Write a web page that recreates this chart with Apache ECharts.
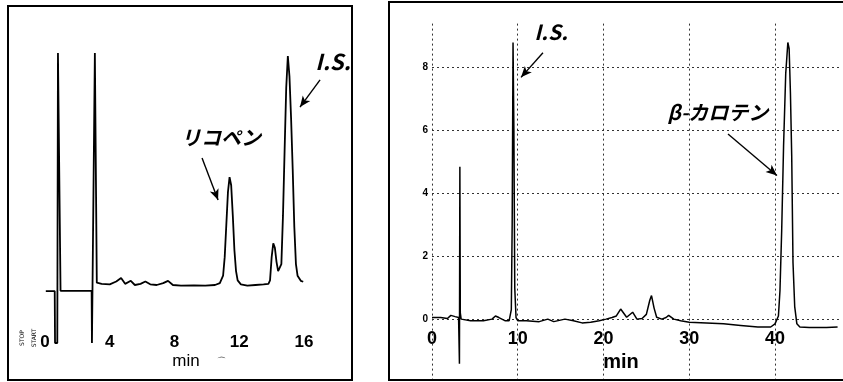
<!DOCTYPE html>
<html>
<head>
<meta charset="utf-8">
<script src="https://cdn.jsdelivr.net/npm/echarts/dist/echarts.min.js"></script>
<style>
  html, body { margin: 0; padding: 0; background: #fff; }
  #main { width: 843px; height: 382px; }
</style>
</head>
<body>
<div id="main"></div>
<script>
// left chromatogram (lycopene) - time in min, signal in arbitrary units
const leftTime = [0.05, 0.6, 0.62, 0.76, 0.8, 0.9, 0.96, 2.88, 2.9, 3.02, 3.08, 3.14, 3.2, 3.5, 4.0, 4.4, 4.7, 4.95, 5.3, 5.55,
  5.9, 6.2, 6.5, 6.9, 7.3, 7.6, 7.9, 8.4, 9.2, 9.9, 10.5, 10.8, 11.0, 11.1, 11.2, 11.3, 11.4, 11.5, 11.6, 11.7,
  11.8, 11.9, 12.1, 12.5, 13.0, 13.5, 13.8, 13.9, 14.0, 14.1, 14.2, 14.3, 14.4, 14.5, 14.6, 14.7, 14.8, 14.9, 15.0, 15.1,
  15.2, 15.3, 15.4, 15.5, 15.6, 15.8, 15.95]
const leftSignal = [-2.6, -2.6, -25, -25, 100, 100, -2.5, -2.5, -25, -25, 100, 100, 1, 0.5, 0.3, 1.5, 3, 0.5, 1.8, 0,
  0.5, 1.5, 0.3, 0, 0.8, 1.8, 0, -0.3, -0.2, -0.3, 0, 0.8, 4, 12, 26, 40, 46.5, 43, 30, 15,
  6, 2, 0.3, -0.3, 0, 0.3, 0.5, 2, 12, 18, 16, 10, 6, 5.6, 9, 30, 58, 85, 98.7, 90,
  72, 50, 25, 9, 4, 1.8, 1.4]
const leftTicks = [0, 4, 8, 12, 16]

// right chromatogram (beta-carotene)
const rightTime = [0, 1.0, 1.8, 2.2, 2.7, 3.1, 3.2, 3.25, 3.3, 3.4, 4.5, 6.0, 7.0, 7.4, 7.8, 8.5, 9.0, 9.25, 9.35, 9.45,
  9.55, 9.65, 9.8, 10.0, 11.0, 12.5, 13.5, 14.2, 15.5, 16.5, 17.5, 18.5, 19.5, 20.3, 21.0, 21.5, 22.0, 22.7, 23.4, 23.9,
  24.5, 25.0, 25.4, 25.6, 25.9, 26.2, 26.8, 27.3, 27.6, 28.2, 29.0, 30.0, 32.0, 34.0, 36.0, 38.0, 39.5, 40.0, 40.4, 40.58,
  40.78, 41.0, 41.25, 41.5, 41.65, 41.8, 41.95, 42.1, 42.3, 42.55, 42.9, 44.0, 46.0, 47.3]
const rightSignal = [0.05, 0.05, 0.02, 0.12, 0.08, 0.05, -1.42, 4.85, 0.2, 0, -0.05, -0.05, 0, 0.1, 0.05, -0.05, -0.05, 0.3, 3, 8.8,
  6, 1, 0.05, -0.05, -0.05, -0.08, 0, -0.08, 0, -0.05, -0.12, -0.1, -0.05, 0, 0.05, 0.1, 0.32, 0.06, 0.22, 0,
  0.02, 0.15, 0.6, 0.75, 0.35, 0.06, 0, 0.05, 0.12, 0, -0.05, -0.1, -0.12, -0.15, -0.2, -0.25, -0.25, -0.15, 0.1, 0.9,
  2.8, 5.5, 7.8, 8.8, 8.6, 7.2, 5.2, 1.8, 0.4, -0.15, -0.25, -0.27, -0.27, -0.25]
const rightYTicks = [0, 2, 4, 6, 8]

// annotations: [time, signal] anchors
const lycopeneLabel = [10.87, 63.8]
const lycopeneArrow = [[9.7, 54.7], [10.69, 36.6]]
const leftISLabel = [17.79, 96.1]
const leftISArrow = [[16.99, 88.4], [15.75, 76.7]]
const rightISLabel = [13.88, 9.13]
const rightISArrow = [[12.94, 8.47], [10.38, 7.69]]
const caroteneLabel = [33.35, 6.58]
const caroteneArrow = [[34.52, 5.89], [40.23, 4.57]]

const zip = (a, b) => a.map((t, i) => [t, b[i]])

const jpFont = '"Noto Sans CJK JP", sans-serif'
const numFont = '"Liberation Sans", Arial, sans-serif'

function textPoint(coord, text, size) {
  return {
    coord: coord,
    symbol: 'circle',
    symbolSize: 0,
    label: {
      show: true,
      position: 'inside',
      formatter: text,
      color: '#000',
      fontFamily: jpFont,
      fontWeight: 'bold',
      fontStyle: 'italic',
      fontSize: size
    }
  }
}

function arrowLine(pts) {
  return [{ coord: pts[0], symbol: 'none' }, { coord: pts[1], symbol: 'arrow', symbolSize: [7, 11] }]
}

const chart = echarts.init(document.getElementById('main'), null, { renderer: 'canvas' })

chart.setOption({
  animation: false,
  backgroundColor: '#fff',
  grid: [
    { left: 45, top: 53, width: 307.6, height: 301.6 },
    { left: 432, top: 23.6, width: 407.3, height: 361.9 }
  ],
  xAxis: [
    {
      gridIndex: 0, type: 'value', min: 0, max: 19, interval: 4,
      offset: -22,
      axisLine: { show: false }, axisTick: { show: false }, splitLine: { show: false },
      axisLabel: {
        margin: 1, showMaxLabel: false, color: '#000',
        fontFamily: numFont, fontWeight: 'bold', fontSize: 17
      }
    },
    {
      gridIndex: 1, type: 'value', min: 0, max: 47.5, interval: 10,
      offset: -52,
      axisLine: { show: false }, axisTick: { show: false },
      splitLine: { show: true, showMaxLine: false, lineStyle: { color: '#333', width: 1, type: [2, 3] } },
      axisLabel: {
        margin: 0, showMaxLabel: false, color: '#000',
        fontFamily: numFont, fontWeight: 'bold', fontSize: 18
      }
    }
  ],
  yAxis: [
    { gridIndex: 0, type: 'value', min: -30, max: 100, show: false },
    {
      gridIndex: 1, type: 'value', min: -2, max: 9.4, interval: 2,
      axisLine: { show: false }, axisTick: { show: false },
      splitLine: { show: true, showMaxLine: false, showMinLine: false, lineStyle: { color: '#333', width: 1, type: [2, 3] } },
      axisLabel: {
        margin: 4, showMaxLabel: false, color: '#000',
        fontFamily: numFont, fontWeight: 'bold', fontSize: 10,
        formatter: v => (rightYTicks.includes(v) ? String(v) : '')
      }
    }
  ],
  series: [
    {
      type: 'line', xAxisIndex: 0, yAxisIndex: 0,
      data: zip(leftTime, leftSignal),
      symbol: 'none', lineStyle: { color: '#000', width: 1.8 },
      markPoint: { data: [textPoint(lycopeneLabel, 'リコペン', 20), textPoint(leftISLabel, 'I.S.', 22)] },
      markLine: {
        silent: true,
        label: { show: false },
        lineStyle: { color: '#000', width: 1.4, type: 'solid' },
        data: [arrowLine(lycopeneArrow), arrowLine(leftISArrow)]
      }
    },
    {
      type: 'line', xAxisIndex: 1, yAxisIndex: 1,
      data: zip(rightTime, rightSignal),
      symbol: 'none', lineStyle: { color: '#000', width: 1.5 },
      markPoint: { data: [textPoint(rightISLabel, 'I.S.', 21), textPoint(caroteneLabel, 'β-カロテン', 20)] },
      markLine: {
        silent: true,
        label: { show: false },
        lineStyle: { color: '#000', width: 1.4, type: 'solid' },
        data: [arrowLine(rightISArrow), arrowLine(caroteneArrow)]
      }
    }
  ],
  graphic: [
    { type: 'rect', z: 100, shape: { x: 8, y: 6, width: 344, height: 374 }, style: { fill: 'none', stroke: '#000', lineWidth: 2 } },
    { type: 'rect', z: 100, shape: { x: 389, y: 2, width: 470, height: 378 }, style: { fill: 'none', stroke: '#000', lineWidth: 2 } },
    { type: 'text', z: 100, x: 186, y: 361, style: { text: 'min', fill: '#000', font: '17px "Liberation Sans", Arial, sans-serif', textAlign: 'center', textVerticalAlign: 'middle' } },
    { type: 'text', z: 100, x: 221, y: 362, style: { text: '⌒', fill: '#000', font: '9px "DejaVu Sans", sans-serif', textAlign: 'center', textVerticalAlign: 'middle' } },
    { type: 'text', z: 100, x: 621, y: 362, style: { text: 'min', fill: '#000', font: 'bold 20px "Liberation Sans", Arial, sans-serif', textAlign: 'center', textVerticalAlign: 'middle' } },
    { type: 'text', z: 100, x: 22, y: 338, rotation: Math.PI / 2, style: { text: 'STOP', fill: '#000', font: '6px "DejaVu Sans", sans-serif', textAlign: 'center', textVerticalAlign: 'middle' } },
    { type: 'text', z: 100, x: 34, y: 338, rotation: Math.PI / 2, style: { text: 'START', fill: '#000', font: '6px "DejaVu Sans", sans-serif', textAlign: 'center', textVerticalAlign: 'middle' } }
  ]
})
</script>
</body>
</html>
